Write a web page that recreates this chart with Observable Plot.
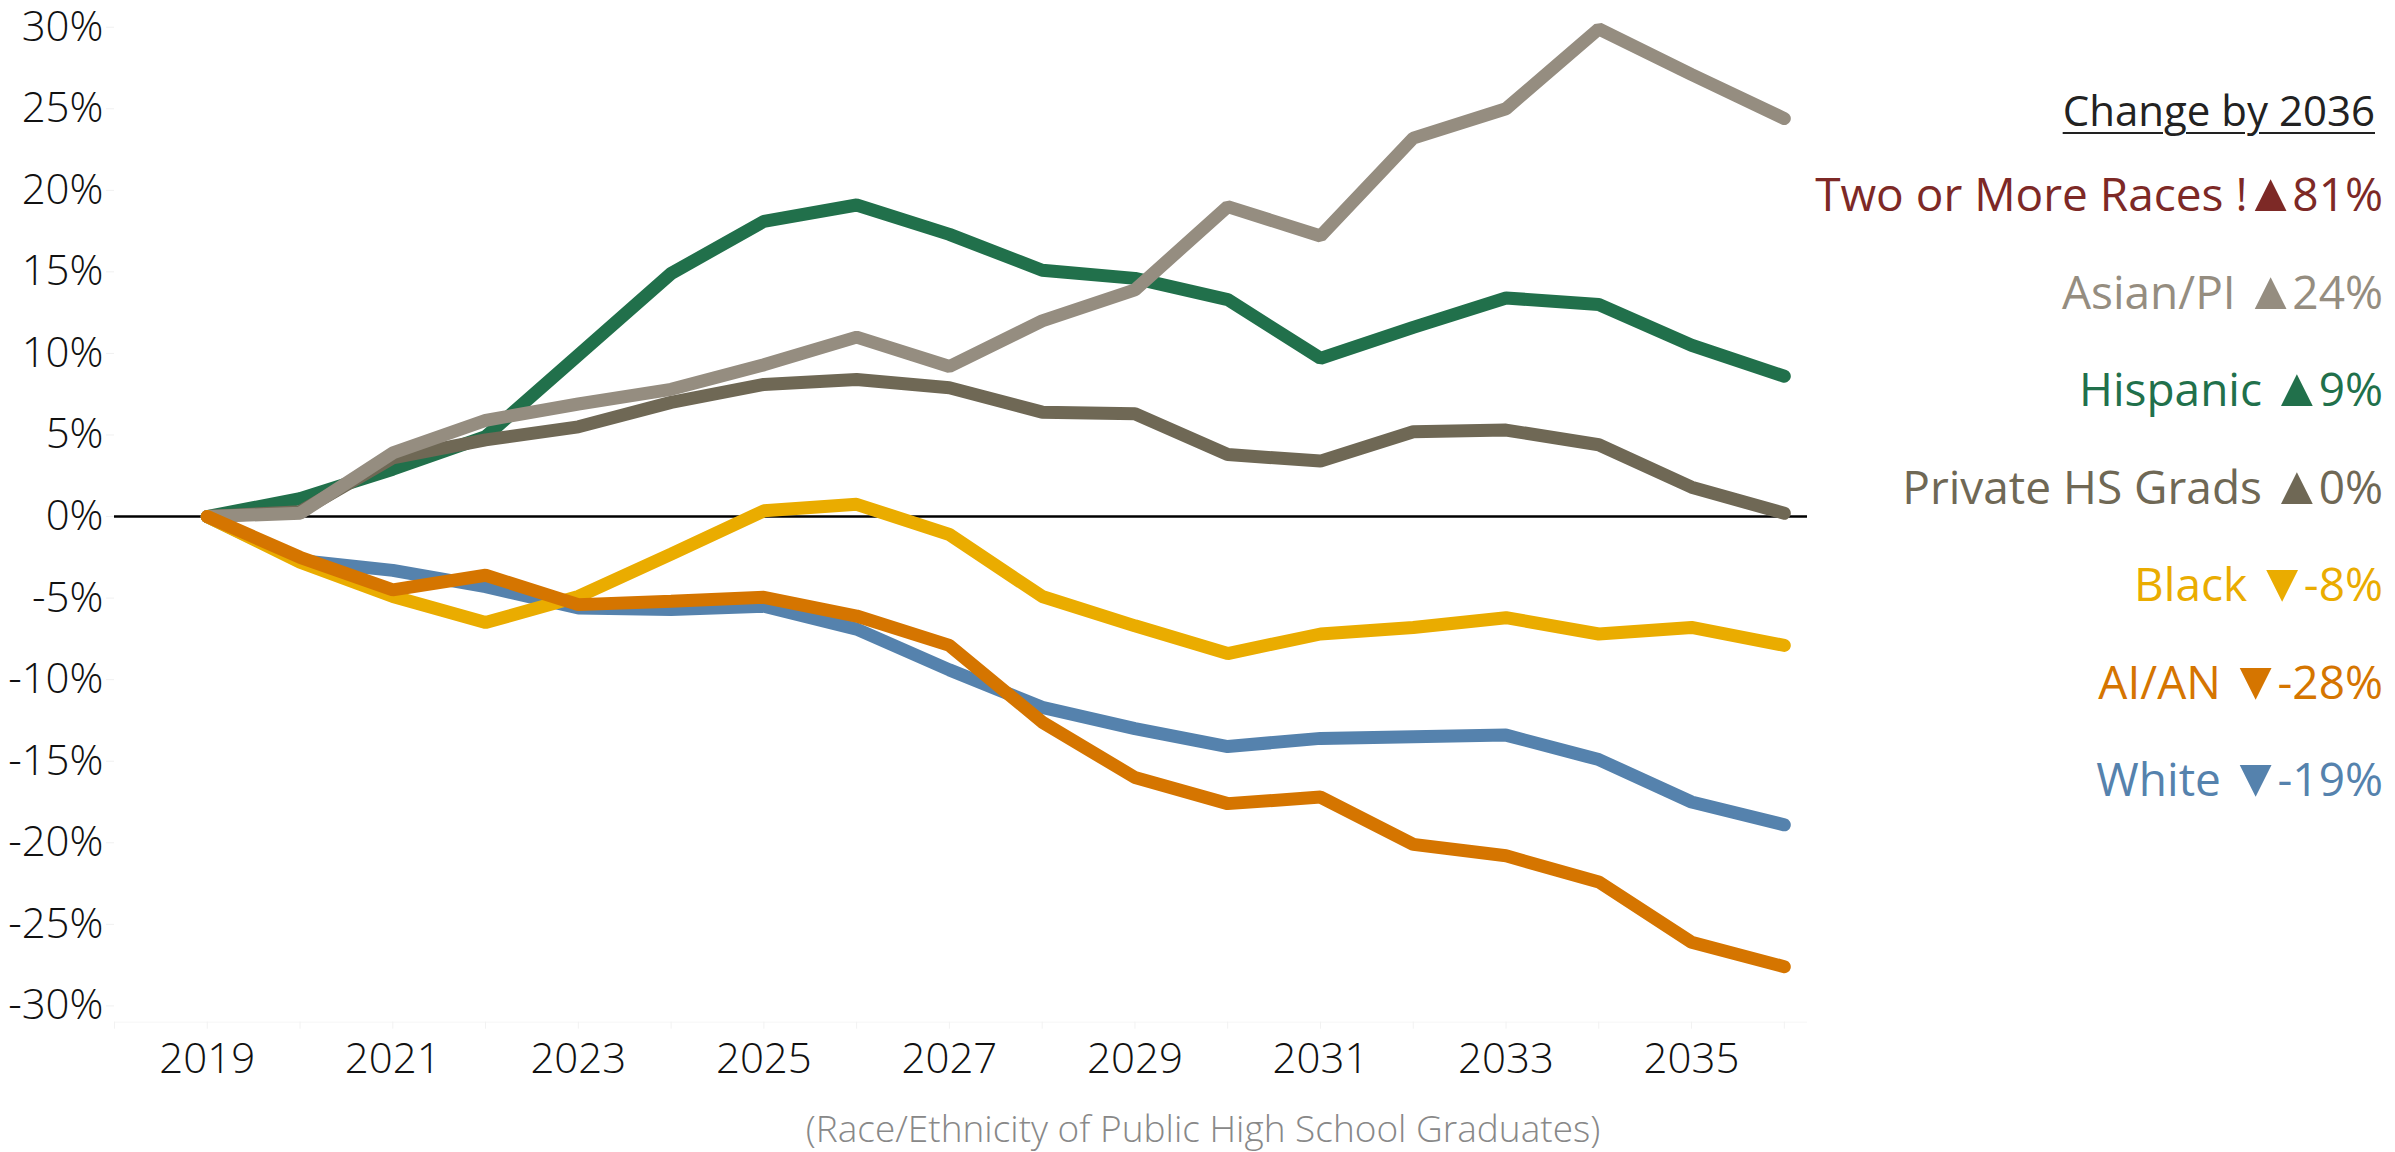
<!DOCTYPE html>
<html>
<head>
<meta charset="utf-8">
<script src="https://cdn.jsdelivr.net/npm/d3@7"></script>
<script src="https://cdn.jsdelivr.net/npm/@observablehq/plot@0.6"></script>
<style>
  body { margin: 0; background: #fff; }
  #wrap { position: relative; width: 2395px; height: 1152px; font-family: "Open Sans", sans-serif; overflow: hidden; }
  #wrap svg { position: absolute; left: 0; top: 0; }
  #legendHead { position: absolute; right: 20px; top: 85px; line-height: 50px; font-size: 42px; color: #222; text-decoration: underline; text-decoration-thickness: 2px; text-underline-offset: 6px; white-space: nowrap; }
  #legendItems { position: absolute; right: 12px; top: 145.25px; text-align: right; }
  #legendItems div { height: 97.5px; line-height: 97.5px; font-size: 46px; white-space: nowrap; }
  #legendItems span.arrow { font-size: 1.18em; line-height: 0; margin-left: -4px; margin-right: -5px; }
  #caption { position: absolute; left: 1203px; top: 1103px; transform: translateX(-50%); font-size: 37px; font-weight: 300; color: #888888; line-height: 50px; white-space: nowrap; }
</style>
</head>
<body>
<div id="wrap"></div>
<script>
// ---- data ----
const years = [2019,2020,2021,2022,2023,2024,2025,2026,2027,2028,2029,2030,2031,2032,2033,2034,2035,2036];
const hispanic = [0, 1.1, 2.9, 4.9, 9.9, 14.9, 18.1, 19.1, 17.3, 15.1, 14.6, 13.3, 9.7, 11.6, 13.4, 13.0, 10.5, 8.6];
const asianPI  = [0, 0.2, 3.9, 5.9, 6.9, 7.8, 9.3, 11.0, 9.2, 12.0, 13.9, 19.0, 17.2, 23.2, 25.0, 29.9, 27.1, 24.4];
const privateHS = [0, 0.3, 3.6, 4.7, 5.5, 7.0, 8.1, 8.4, 7.9, 6.4, 6.3, 3.8, 3.4, 5.2, 5.3, 4.4, 1.8, 0.2];
const white    = [0, -2.7, -3.3, -4.3, -5.6, -5.7, -5.5, -6.9, -9.4, -11.7, -13.0, -14.1, -13.6, -13.5, -13.4, -14.9, -17.5, -18.9];
const black    = [0, -2.8, -4.9, -6.5, -4.9, -2.3, 0.35, 0.75, -1.1, -4.9, -6.7, -8.4, -7.2, -6.8, -6.2, -7.2, -6.8, -7.9];
const aian     = [0, -2.5, -4.5, -3.6, -5.4, -5.2, -4.95, -6.1, -7.9, -12.6, -16.0, -17.6, -17.2, -20.1, -20.8, -22.4, -26.1, -27.6];

// drawing order (bottom to top)
const seriesValues = [hispanic, privateHS, asianPI, white, black, aian];
const seriesColors = ["#21704b", "#6f6855", "#958d80", "#5582ad", "#eaac00", "#d57500"];

const yTicks = [-30,-25,-20,-15,-10,-5,0,5,10,15,20,25,30];
const axisYears = [2018,2019,2020,2021,2022,2023,2024,2025,2026,2027,2028,2029,2030,2031,2032,2033,2034,2035,2036];
const labelYears = [2019,2021,2023,2025,2027,2029,2031,2033,2035];
const xDomain = [2018, 2036.25];
const yDomain = [-31, 30];

// legend
const legendTitle = "Change by 2036";
const legendNames   = ["Two or More Races !", "Asian/PI ", "Hispanic ", "Private HS Grads ", "Black ", "AI/AN ", "White "];
const legendArrows  = ["▲", "▲", "▲", "▲", "▼", "▼", "▼"];
const legendChanges = ["81%", "24%", "9%", "0%", "-8%", "-28%", "-19%"];
const legendColors  = ["#7d2926", "#958d80", "#21704b", "#6f6855", "#eaac00", "#d57500", "#5582ad"];

const caption = "(Race/Ethnicity of Public High School Graduates)";

// ---- chart ----
const lineMarks = seriesValues.map((vals, k) =>
  Plot.line(years.map((yr, i) => ({year: yr, value: vals[i]})), {
    x: "year", y: "value", stroke: seriesColors[k], strokeWidth: 13,
    strokeLinecap: "round", strokeLinejoin: "miter"
  })
);

const chart = Plot.plot({
  width: 2395,
  height: 1100,
  marginLeft: 114,
  marginRight: 588,
  marginTop: 26.7,
  marginBottom: 78.3,
  x: {domain: xDomain},
  y: {domain: yDomain},
  style: {fontFamily: '"Open Sans", sans-serif', background: "white", overflow: "visible"},
  marks: [
    Plot.ruleY([yDomain[0]], {stroke: "#f6f6f6", strokeWidth: 1}),
    Plot.axisX({ticks: axisYears, tickSize: 7, stroke: "#f2f2f2", fill: "#111", fontSize: 42, fontWeight: 300,
      tickPadding: 14, tickFormat: d => labelYears.includes(d) ? String(d) : "", label: null}),
    Plot.axisY({ticks: yTicks, tickSize: 8, tickPadding: 3, stroke: "#f0f0f0", fill: "#111", fontSize: 42, fontWeight: 300,
      tickFormat: d => d + "%", label: null}),
    Plot.ruleY([0], {stroke: "#000", strokeWidth: 2.5}),
    ...lineMarks
  ]
});

const wrap = document.getElementById("wrap");
wrap.appendChild(chart);

const head = document.createElement("div");
head.id = "legendHead";
head.textContent = legendTitle;
wrap.appendChild(head);

const items = document.createElement("div");
items.id = "legendItems";
legendNames.forEach((n, i) => {
  const d = document.createElement("div");
  d.style.color = legendColors[i];
  d.appendChild(document.createTextNode(n));
  const a = document.createElement("span");
  a.className = "arrow";
  a.textContent = legendArrows[i];
  d.appendChild(a);
  d.appendChild(document.createTextNode(legendChanges[i]));
  items.appendChild(d);
});
wrap.appendChild(items);

const cap = document.createElement("div");
cap.id = "caption";
cap.textContent = caption;
wrap.appendChild(cap);
</script>
</body>
</html>
